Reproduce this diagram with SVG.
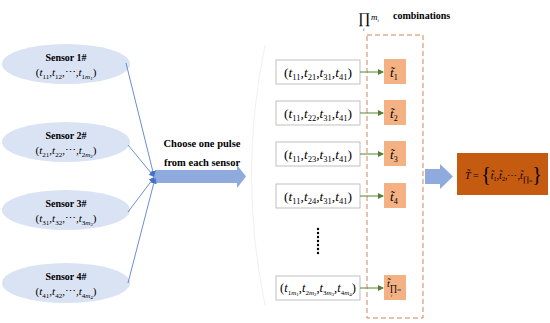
<svg xmlns="http://www.w3.org/2000/svg" width="550" height="323" viewBox="0 0 550 323">
<style>
text{font-family:"Liberation Serif","Times New Roman",serif;fill:#000}
.lbl{font-size:10px;font-weight:bold;text-anchor:middle}
.tup{font-size:11px;text-anchor:middle}
.tb{font-size:13.5px;text-anchor:middle}
.tb .s{font-size:8.5px}
.i{font-style:italic}
.s{font-size:7px}
.ss{font-size:5px}
.ell{fill:#dae3f3;stroke:none}
.box{fill:#fff;stroke:#bfbfbf;stroke-width:1}
.ob{fill:#f4b183;stroke:none}
.blue{stroke:#4472c4;stroke-width:0.8;fill:none}
.grn{stroke:#548235;stroke-width:1;fill:none}
</style>
<defs>
<marker id="ab" markerWidth="6" markerHeight="6" refX="5" refY="3" orient="auto" markerUnits="userSpaceOnUse"><path d="M0,0 L6,3 L0,6 z" fill="#4472c4"/></marker>
<marker id="ag" markerWidth="6" markerHeight="6" refX="5" refY="3" orient="auto" markerUnits="userSpaceOnUse"><path d="M0,0 L6,3 L0,6 z" fill="#548235"/></marker>
</defs>
<rect width="550" height="323" fill="#fff"/>
<path d="M265,45 Q238,175 265,305" stroke="#f0f0f0" stroke-width="1" fill="none"/>

<g id="sensor1"><ellipse class="ell" cx="66" cy="64" rx="64" ry="20"/>
<text class="lbl" x="66" y="61">Sensor 1#</text>
<text class="tup" x="66" y="76">(<tspan class="i">t</tspan><tspan class="s" dy="2.5">11</tspan><tspan dy="-2.5">,</tspan><tspan class="i">t</tspan><tspan class="s" dy="2.5">12</tspan><tspan dy="-2.5">,⋯,</tspan><tspan class="i">t</tspan><tspan class="s" dy="2.5">1<tspan class="i">m</tspan></tspan><tspan class="ss" dy="1.5">1</tspan><tspan dy="-4">)</tspan></text></g>

<g id="sensor2"><ellipse class="ell" cx="66" cy="142" rx="64" ry="20"/>
<text class="lbl" x="66" y="139">Sensor 2#</text>
<text class="tup" x="66" y="154">(<tspan class="i">t</tspan><tspan class="s" dy="2.5">21</tspan><tspan dy="-2.5">,</tspan><tspan class="i">t</tspan><tspan class="s" dy="2.5">22</tspan><tspan dy="-2.5">,⋯,</tspan><tspan class="i">t</tspan><tspan class="s" dy="2.5">2<tspan class="i">m</tspan></tspan><tspan class="ss" dy="1.5">2</tspan><tspan dy="-4">)</tspan></text></g>

<g id="sensor3"><ellipse class="ell" cx="66" cy="210" rx="64" ry="20"/>
<text class="lbl" x="66" y="207">Sensor 3#</text>
<text class="tup" x="66" y="222">(<tspan class="i">t</tspan><tspan class="s" dy="2.5">31</tspan><tspan dy="-2.5">,</tspan><tspan class="i">t</tspan><tspan class="s" dy="2.5">32</tspan><tspan dy="-2.5">,⋯,</tspan><tspan class="i">t</tspan><tspan class="s" dy="2.5">3<tspan class="i">m</tspan></tspan><tspan class="ss" dy="1.5">3</tspan><tspan dy="-4">)</tspan></text></g>

<g id="sensor4"><ellipse class="ell" cx="66" cy="283" rx="64" ry="20"/>
<text class="lbl" x="66" y="280">Sensor 4#</text>
<text class="tup" x="66" y="295">(<tspan class="i">t</tspan><tspan class="s" dy="2.5">41</tspan><tspan dy="-2.5">,</tspan><tspan class="i">t</tspan><tspan class="s" dy="2.5">42</tspan><tspan dy="-2.5">,⋯,</tspan><tspan class="i">t</tspan><tspan class="s" dy="2.5">4<tspan class="i">m</tspan></tspan><tspan class="ss" dy="1.5">4</tspan><tspan dy="-4">)</tspan></text></g>

<g id="choose">
<polygon points="155,170 237,170 237,165 246,176.5 237,188 237,183 155,183" fill="#8faadc"/>
<text class="lbl" x="202" y="147" style="font-size:10.5px">Choose one pulse</text>
<text class="lbl" x="202" y="166" style="font-size:10.5px">from each sensor</text>
</g>

<g id="header">
<text x="358" y="23" style="font-size:15px">∏</text>
<text x="363" y="31" class="i" style="font-size:5px">i</text>
<text x="371" y="20" class="i" style="font-size:9px">m<tspan dy="2" style="font-size:5px">i</tspan></text>
<text x="393" y="19" style="font-size:10px;font-weight:bold">combinations</text>
</g>

<g id="tuple1"><rect class="box" x="276" y="60" width="84" height="24"/>
<text class="tb" x="318" y="77">(<tspan class="i">t</tspan><tspan class="s" dy="3">11</tspan><tspan dy="-3">,</tspan><tspan class="i">t</tspan><tspan class="s" dy="3">21</tspan><tspan dy="-3">,</tspan><tspan class="i">t</tspan><tspan class="s" dy="3">31</tspan><tspan dy="-3">,</tspan><tspan class="i">t</tspan><tspan class="s" dy="3">41</tspan><tspan dy="-3">)</tspan></text></g>
<g id="tuple2"><rect class="box" x="276" y="101" width="84" height="24"/>
<text class="tb" x="318" y="118">(<tspan class="i">t</tspan><tspan class="s" dy="3">11</tspan><tspan dy="-3">,</tspan><tspan class="i">t</tspan><tspan class="s" dy="3">22</tspan><tspan dy="-3">,</tspan><tspan class="i">t</tspan><tspan class="s" dy="3">31</tspan><tspan dy="-3">,</tspan><tspan class="i">t</tspan><tspan class="s" dy="3">41</tspan><tspan dy="-3">)</tspan></text></g>
<g id="tuple3"><rect class="box" x="276" y="142" width="84" height="24"/>
<text class="tb" x="318" y="159">(<tspan class="i">t</tspan><tspan class="s" dy="3">11</tspan><tspan dy="-3">,</tspan><tspan class="i">t</tspan><tspan class="s" dy="3">23</tspan><tspan dy="-3">,</tspan><tspan class="i">t</tspan><tspan class="s" dy="3">31</tspan><tspan dy="-3">,</tspan><tspan class="i">t</tspan><tspan class="s" dy="3">41</tspan><tspan dy="-3">)</tspan></text></g>
<g id="tuple4"><rect class="box" x="276" y="184" width="84" height="24"/>
<text class="tb" x="318" y="201">(<tspan class="i">t</tspan><tspan class="s" dy="3">11</tspan><tspan dy="-3">,</tspan><tspan class="i">t</tspan><tspan class="s" dy="3">24</tspan><tspan dy="-3">,</tspan><tspan class="i">t</tspan><tspan class="s" dy="3">31</tspan><tspan dy="-3">,</tspan><tspan class="i">t</tspan><tspan class="s" dy="3">41</tspan><tspan dy="-3">)</tspan></text></g>
<g id="dots" fill="#000">
<circle cx="318" cy="229" r="1.2"/><circle cx="318" cy="233" r="1.2"/><circle cx="318" cy="237" r="1.2"/><circle cx="318" cy="241" r="1.2"/><circle cx="318" cy="245" r="1.2"/><circle cx="318" cy="249" r="1.2"/><circle cx="318" cy="253" r="1.2"/>
</g>
<g id="tuple5"><rect class="box" x="276" y="276" width="84" height="24"/>
<text class="tup" x="318" y="292" style="font-size:12.5px">(<tspan class="i">t</tspan><tspan class="s" dy="2.5">1<tspan class="i">m</tspan></tspan><tspan class="ss" dy="1.5">1</tspan><tspan dy="-4">,</tspan><tspan class="i">t</tspan><tspan class="s" dy="2.5">2<tspan class="i">m</tspan></tspan><tspan class="ss" dy="1.5">2</tspan><tspan dy="-4">,</tspan><tspan class="i">t</tspan><tspan class="s" dy="2.5">3<tspan class="i">m</tspan></tspan><tspan class="ss" dy="1.5">3</tspan><tspan dy="-4">,</tspan><tspan class="i">t</tspan><tspan class="s" dy="2.5">4<tspan class="i">m</tspan></tspan><tspan class="ss" dy="1.5">4</tspan><tspan dy="-4">)</tspan></text></g>

<g id="group">
<rect x="367" y="35" width="56" height="283" fill="none" stroke="#d08552" stroke-width="1" stroke-dasharray="5,3"/>
</g>
<g id="t1"><rect class="ob" x="384" y="59" width="22" height="25"/><text x="390" y="77" class="i" style="font-size:13px">t̃<tspan dy="2.5" style="font-size:8px;font-style:normal">1</tspan></text></g>
<g id="t2"><rect class="ob" x="384" y="100" width="22" height="25"/><text x="390" y="118" class="i" style="font-size:13px">t̃<tspan dy="2.5" style="font-size:8px;font-style:normal">2</tspan></text></g>
<g id="t3"><rect class="ob" x="384" y="141" width="22" height="25"/><text x="390" y="159" class="i" style="font-size:13px">t̃<tspan dy="2.5" style="font-size:8px;font-style:normal">3</tspan></text></g>
<g id="t4"><rect class="ob" x="384" y="183" width="22" height="25"/><text x="390" y="201" class="i" style="font-size:13px">t̃<tspan dy="2.5" style="font-size:8px;font-style:normal">4</tspan></text></g>
<g id="t5"><rect class="ob" x="384" y="275" width="22" height="25"/><text x="387" y="287" class="i" style="font-size:10px">t̃<tspan dy="4" style="font-size:9px;font-style:normal">∏</tspan><tspan style="font-size:5px">m</tspan></text><text x="391" y="297" class="i" style="font-size:4px">i</text></g>

<g id="result">
<rect x="457" y="153" width="91" height="42" fill="#c55a11"/>
<text x="465" y="179" style="font-size:10px"><tspan class="i">T̃</tspan> = <tspan style="font-size:20px" dy="2">{</tspan><tspan class="i" dy="-2">t̃</tspan><tspan dy="2" style="font-size:6px">1</tspan><tspan dy="-2">,</tspan><tspan class="i">t̃</tspan><tspan dy="2" style="font-size:6px">2</tspan><tspan dy="-2">,⋯,</tspan><tspan class="i">t̃</tspan><tspan dy="3" style="font-size:8px">∏</tspan><tspan style="font-size:4px" class="i">m</tspan><tspan style="font-size:20px" dy="-1">}</tspan></text>
</g>

<g id="connectors">
<line class="blue" x1="126" y1="63" x2="154" y2="176" marker-end="url(#ab)"/>
<line class="blue" x1="128" y1="145" x2="154" y2="176.5" marker-end="url(#ab)"/>
<line class="blue" x1="128" y1="212" x2="154" y2="177.5" marker-end="url(#ab)"/>
<line class="blue" x1="128" y1="283" x2="155" y2="178.5" marker-end="url(#ab)"/>
<line class="grn" x1="360" y1="72" x2="383" y2="72" marker-end="url(#ag)"/>
<line class="grn" x1="360" y1="113" x2="383" y2="113" marker-end="url(#ag)"/>
<line class="grn" x1="360" y1="154" x2="383" y2="154" marker-end="url(#ag)"/>
<line class="grn" x1="360" y1="196" x2="383" y2="196" marker-end="url(#ag)"/>
<line class="grn" x1="360" y1="288" x2="383" y2="288" marker-end="url(#ag)"/>
<polygon points="425,169 440,169 440,164 453,176.5 440,189 440,184 425,184" fill="#8faadc"/>
</g>
</svg>
